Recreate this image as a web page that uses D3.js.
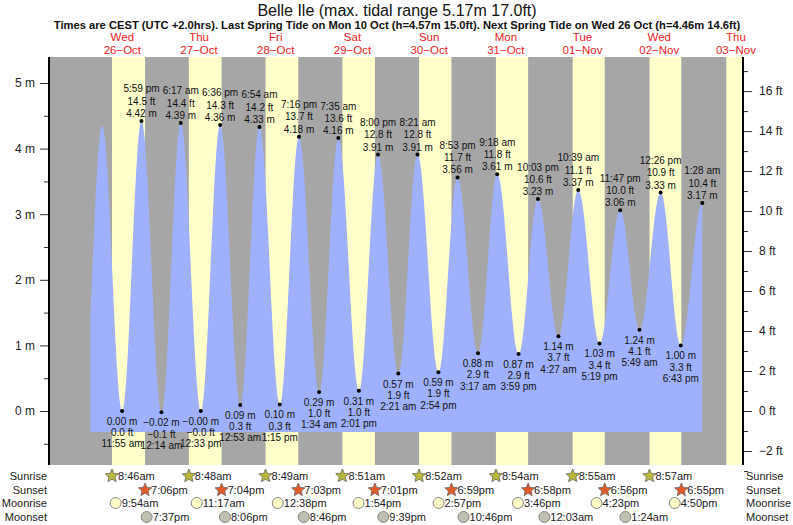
<!DOCTYPE html>
<html><head><meta charset="utf-8">
<script src="https://cdn.jsdelivr.net/npm/d3@7"></script>
<style>body{margin:0;background:#fff}text{font-family:"Liberation Sans",Arial,sans-serif}</style>
</head><body><svg id="c" width="793" height="525"></svg>
<script>
// Data (days counted from 26-Oct)
const dayNames = ["Wed","Thu","Fri","Sat","Sun","Mon","Tue","Wed","Thu"];
const dayDates = ["26-Oct","27-Oct","28-Oct","29-Oct","30-Oct","31-Oct","01-Nov","02-Nov","03-Nov"];
const sunrise = ["8:46am","8:48am","8:49am","8:51am","8:52am","8:54am","8:55am","8:57am","8:58am"];
const sunset  = ["7:06pm","7:04pm","7:03pm","7:01pm","6:59pm","6:58pm","6:56pm","6:55pm","6:53pm"];
const moonrise = ["9:54am","11:17am","12:38pm","1:54pm","2:57pm","3:46pm","4:23pm","4:50pm"];
const moonset  = ["7:37pm","8:06pm","8:46pm","9:39pm","10:46pm","12:03am","1:24am"];
const moonsetDay = [0,1,2,3,4,6,7];
// tide extremes
const exDay = [-1,0,0,0,1,1,1,1,2,2,2,2,3,3,3,3,4,4,4,4,5,5,5,5,6,6,6,6,7,7,7,8];
const exTime = ["11:35pm","5:40am","11:55am","5:59pm","12:14am","6:17am","12:33pm","6:36pm","12:53am","6:54am","1:15pm","7:16pm","1:34am","7:35am","2:01pm","8:00pm","2:21am","8:21am","2:54pm","8:53pm","3:17am","9:18am","3:59pm","10:03pm","4:27am","10:39am","5:19pm","11:47pm","5:49am","12:26pm","6:43pm","1:28am"];
const exM = [0.00,4.35,0.00,4.42,-0.02,4.39,-0.00,4.36,0.09,4.33,0.10,4.18,0.29,4.16,0.31,3.91,0.57,3.91,0.59,3.56,0.88,3.61,0.87,3.23,1.14,3.37,1.03,3.06,1.24,3.33,1.00,3.17];
const exMLabel = ["","","0.00","4.42","-0.02","4.39","-0.00","4.36","0.09","4.33","0.10","4.18","0.29","4.16","0.31","3.91","0.57","3.91","0.59","3.56","0.88","3.61","0.87","3.23","1.14","3.37","1.03","3.06","1.24","3.33","1.00","3.17"];
const exFt = ["","","0.0","14.5","-0.1","14.4","-0.0","14.3","0.3","14.2","0.3","13.7","1.0","13.6","1.0","12.8","1.9","12.8","1.9","11.7","2.9","11.8","2.9","10.6","3.7","11.1","3.4","10.0","4.1","10.9","3.3","10.4"];
const mTicks = [0,1,2,3,4,5];
const ftTicks = [-2,0,2,4,6,8,10,12,14,16];

const svg = d3.select("#c");
const L=49,R=743,T=57,B=465;
const hrs = s=>{const m=s.match(/(\d+):(\d+)(am|pm)/);let h=+m[1]%12;if(m[3]=="pm")h+=12;return h+ +m[2]/60;};
const x = d3.scaleLinear().domain([0,24*9]).range([84,84+76.7*9]);
const y = d3.scaleLinear().domain([0,5]).range([411,411-65.6*5]);
const yft = d3.scaleLinear().domain([0,16]).range([411,411-65.6*16*0.3048]);
const tOf=(d,s)=>d*24+hrs(s);
const fix = s=>s.replace(/-/g,"\u2212");

svg.append("rect").attr("x",L).attr("y",T).attr("width",R-L).attr("height",B-T).attr("fill","#a6a6a6");
svg.append("clipPath").attr("id","pc").append("rect").attr("x",L).attr("y",T).attr("width",R-L).attr("height",B-T);
const g = svg.append("g").attr("clip-path","url(#pc)");
dayNames.forEach((_,i)=>{
  const a=x(tOf(i,sunrise[i])), b=x(tOf(i,sunset[i]));
  g.append("rect").attr("x",a).attr("y",T).attr("width",b-a).attr("height",B-T).attr("fill","#ffffcc");
});
const ex = exDay.map((d,i)=>({t:tOf(d,exTime[i]),m:exM[i]}));
const pts=[];
const t0=2, t1=ex[ex.length-1].t;
for(let i=0;i<ex.length-1;i++){
  const a=ex[i],b=ex[i+1];
  for(let k=0;k<=40;k++){const t=a.t+(b.t-a.t)*k/40; if(t<t0||t>t1) continue;
    pts.push([t,a.m+(b.m-a.m)*(1-Math.cos(Math.PI*k/40))/2]);}
}
g.append("path").datum(pts).attr("fill","#9fb1fd")
 .attr("d",d3.area().x(d=>x(d[0])).y0(y(-0.32)).y1(d=>y(d[1])));

ex.forEach((e,i)=>{
  if(!exMLabel[i]) return;
  const cx=x(e.t), cy=y(e.m), hi = e.m>2;
  svg.append("circle").attr("cx",cx).attr("cy",cy).attr("r",2).attr("fill","#000");
  const lines = hi?[exTime[i].replace(/(am|pm)/," $1"),exFt[i]+" ft",exMLabel[i]+" m"]:[exMLabel[i]+" m",exFt[i]+" ft",exTime[i].replace(/(am|pm)/," $1")];
  lines.forEach((s,j)=>{
    const yy = hi? cy-4-(2-j)*12.3 : cy+14+j*11.2;
    svg.append("text").attr("x",cx).attr("y",yy).attr("text-anchor","middle").attr("font-size",10).attr("fill","#111").text(fix(s));
  });
});

svg.append("line").attr("x1",L).attr("x2",L).attr("y1",T).attr("y2",B).attr("stroke","#000").attr("stroke-width",2);
svg.append("line").attr("x1",R).attr("x2",R).attr("y1",T).attr("y2",B).attr("stroke","#000").attr("stroke-width",2);
const yl = svg.append("g").attr("transform",`translate(${L-1},0)`)
  .call(d3.axisLeft(y).tickValues(mTicks).tickSize(8).tickFormat(d=>d+" m"));
const ylm = svg.append("g").attr("transform",`translate(${L-1},0)`)
  .call(d3.axisLeft(y).tickValues([-0.5,0.5,1.5,2.5,3.5,4.5]).tickSize(4).tickFormat(""));
const yr = svg.append("g").attr("transform",`translate(${R+1},0)`)
  .call(d3.axisRight(yft).tickValues(ftTicks).tickSize(8).tickFormat(d=>fix(d+" ft")));
const yrm = svg.append("g").attr("transform",`translate(${R+1},0)`)
  .call(d3.axisRight(yft).tickValues(d3.range(-3,18,2)).tickSize(4).tickFormat(""));
[yl,ylm,yr,yrm].forEach(a=>{a.select(".domain").remove();a.selectAll("line").attr("stroke","#333");
  a.selectAll("text").attr("font-size",12).attr("fill","#222").attr("font-family","Liberation Sans,Arial");});
yl.selectAll("text").attr("dx",-2); yr.selectAll("text").attr("dx",4);

svg.append("text").attr("x",397).attr("y",16).attr("text-anchor","middle").attr("font-size",16).attr("fill","#111").text("Belle Ile (max. tidal range 5.17m 17.0ft)");
svg.append("text").attr("x",397).attr("y",29).attr("text-anchor","middle").attr("font-size",11.2).attr("font-weight","bold").attr("fill","#111")
  .text("Times are CEST (UTC +2.0hrs). Last Spring Tide on Mon 10 Oct (h=4.57m 15.0ft). Next Spring Tide on Wed 26 Oct (h=4.46m 14.6ft)");
dayNames.forEach((n,i)=>{
  const cx=x(i*24+12);
  svg.append("text").attr("x",cx).attr("y",41).attr("text-anchor","middle").attr("font-size",11.5).attr("fill","#ee2222").text(n);
  svg.append("text").attr("x",cx).attr("y",54).attr("text-anchor","middle").attr("font-size",11.5).attr("fill","#ee2222").text(fix(dayDates[i]));
});

const rows=[["Sunrise",480],["Sunset",494],["Moonrise",507],["Moonset",521]];
rows.forEach(([s,yy])=>{
  svg.append("text").attr("x",47).attr("y",yy).attr("text-anchor","end").attr("font-size",11).attr("fill","#222").text(s);
  svg.append("text").attr("x",746).attr("y",yy).attr("font-size",11).attr("fill","#222").text(s);
});
const star=(cx,cy,fill)=>{const p=[];for(let k=0;k<10;k++){const r=k%2?3.2:7,a=-Math.PI/2+k*Math.PI/5;p.push([cx+r*Math.cos(a),cy+r*Math.sin(a)]);}
  svg.append("polygon").attr("points",p.map(q=>q.join(",")).join(" ")).attr("fill",fill).attr("stroke","#666").attr("stroke-width",0.8);};
const item=(t,yy,txt,kind)=>{
  const cx=x(t);
  if(kind=="sr") star(cx,yy-4,"#b8b83c"); else if(kind=="ss") star(cx,yy-4,"#e05a2a");
  else svg.append("circle").attr("cx",cx).attr("cy",yy-4).attr("r",5.5).attr("fill",kind=="mr"?"#ffffcc":"#c0c0b0").attr("stroke","#888");
  svg.append("text").attr("x",cx+6).attr("y",yy).attr("font-size",11).attr("fill","#222").text(txt);
};
for(let i=0;i<8;i++){item(tOf(i,sunrise[i]),480,sunrise[i],"sr");item(tOf(i,sunset[i]),494,sunset[i],"ss");item(tOf(i,moonrise[i]),507,moonrise[i],"mr");}
moonset.forEach((s,i)=>item(tOf(moonsetDay[i],s),521,s,"ms"));
</script></body></html>
